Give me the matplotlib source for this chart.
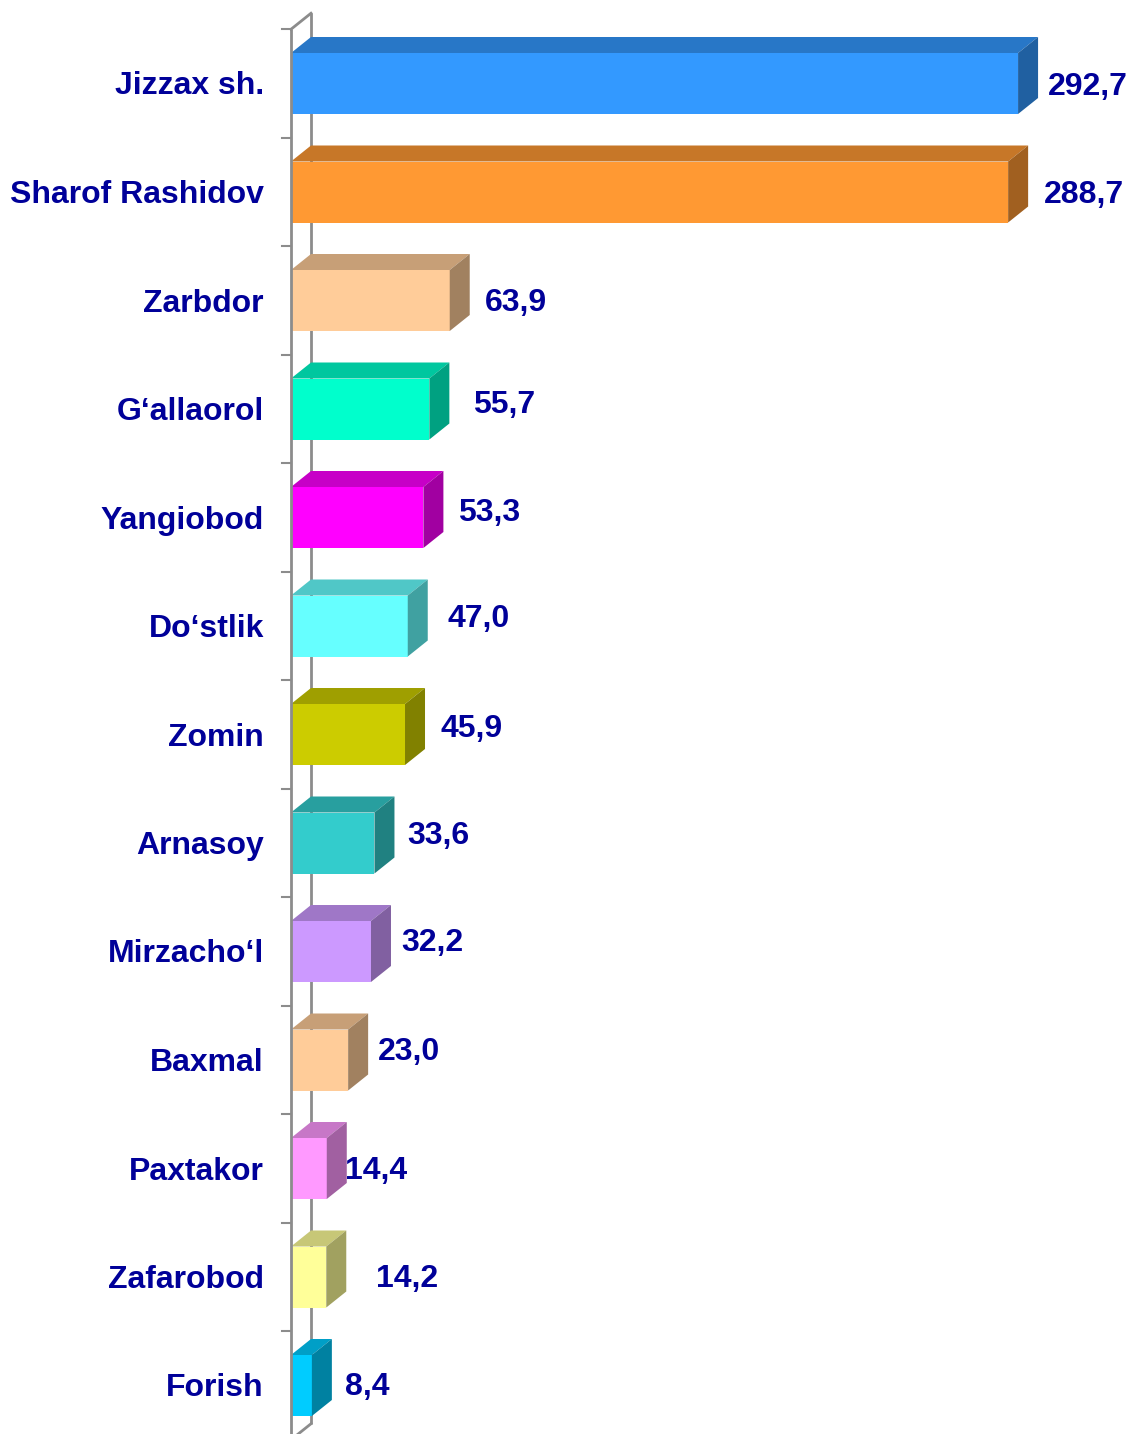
import matplotlib
matplotlib.use("Agg")
import matplotlib.pyplot as plt
from matplotlib.patches import Polygon
from matplotlib.colors import to_rgb

categories = ["Jizzax sh.", "Sharof Rashidov", "Zarbdor", "G\u2018allaorol", "Yangiobod",
              "Do\u2018stlik", "Zomin", "Arnasoy", "Mirzacho\u2018l", "Baxmal",
              "Paxtakor", "Zafarobod", "Forish"]
values = [292.7, 288.7, 63.9, 55.7, 53.3, 47.0, 45.9, 33.6, 32.2, 23.0, 14.4, 14.2, 8.4]
value_labels = ["292,7", "288,7", "63,9", "55,7", "53,3", "47,0", "45,9", "33,6",
                "32,2", "23,0", "14,4", "14,2", "8,4"]
colors = ["#3399FF", "#FF9933", "#FFCC99", "#00FFCC", "#FF00FF", "#66FFFF", "#CCCC00",
          "#33CCCC", "#CC99FF", "#FFCC99", "#FF99FF", "#FFFF99", "#00CCFF"]
# label nudges in pixels (x right, y down)
label_dx = [10, 16, 15, 24, 15, 20, 15, 13, 10, 10, -2, 30, 13]
label_dy = [3.5, 3, 2, -4, -4, -7, -6, -7, -9, -8, 2, 2, 2]

W, H = 1132, 1434
fig = plt.figure(figsize=(W / 100, H / 100), dpi=100)
ax = fig.add_axes([0, 0, 1, 1])
ax.axis("off")

px_x = 2.484        # pixels per value unit
x0_px = 291.0       # pixel of value 0
slot = 108.5        # pixels per category
c0_px = 83.5        # pixel y of first category center
ax.set_xlim(-x0_px / px_x, (W - x0_px) / px_x)
ax.set_ylim((H - c0_px) / slot, -c0_px / slot)

dx = 20 / px_x
dy = 16 / slot
h = 61 / slot
n = len(categories)
grey = "#8C8C8C"
navy = "#000099"

def shade(c, f):
    r, g, b = to_rgb(c)
    return (r * f, g * f, b * f)

# walls / axis lines
top = -0.5
bot = n - 0.5
ax.plot([dx, dx], [top - dy, bot - dy], color=grey, lw=2, zorder=1, solid_capstyle="butt")
ax.plot([0, dx], [top, top - dy], color=grey, lw=2, zorder=1)
ax.plot([0, dx], [bot, bot - dy], color=grey, lw=2, zorder=1)
ax.plot([0, 0], [top, bot], color=grey, lw=2, zorder=5, solid_capstyle="butt")
for k in range(n + 1):
    ax.plot([-9 / px_x, 0], [k - 0.5, k - 0.5], color=grey, lw=1.5, zorder=5)

for i, (v, c) in enumerate(zip(values, colors)):
    yt = i - h / 2
    yb = i + h / 2
    front = Polygon([(0, yt), (v, yt), (v, yb), (0, yb)], closed=True,
                    facecolor=c, edgecolor="none", zorder=3)
    topf = Polygon([(0, yt), (v, yt), (v + dx, yt - dy), (dx, yt - dy)], closed=True,
                   facecolor=shade(c, 0.78), edgecolor="none", zorder=3)
    side = Polygon([(v, yt), (v + dx, yt - dy), (v + dx, yb - dy), (v, yb)], closed=True,
                   facecolor=shade(c, 0.63), edgecolor="none", zorder=3)
    for p in (front, topf, side):
        ax.add_patch(p)
    ax.text(v + dx + label_dx[i] / px_x, i + label_dy[i] / slot, value_labels[i],
            ha="left", va="center", fontsize=23, fontweight="bold", color=navy,
            family=["Liberation Sans", "DejaVu Sans"], zorder=6)
    ax.text(-27 / px_x, i + 3 / slot, categories[i], ha="right", va="center", fontsize=23,
            fontweight="bold", color=navy, family=["Liberation Sans", "DejaVu Sans"],
            zorder=6)

fig.savefig("out.png", dpi=100, facecolor="white")
